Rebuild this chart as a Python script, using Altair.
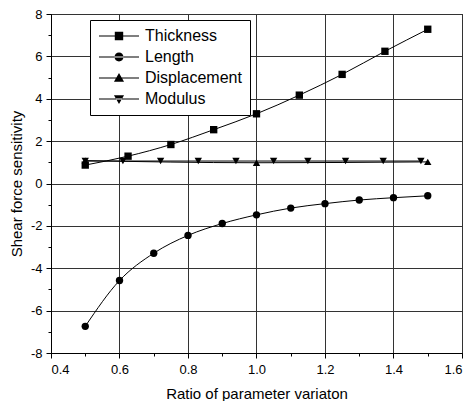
import altair as alt
import pandas as pd

series_names = ["Thickness", "Length", "Displacement", "Modulus"]

thick_x = [0.5, 0.625, 0.75, 0.875, 1.0, 1.125, 1.25, 1.375, 1.5]
thick_y = [0.87, 1.29, 1.84, 2.54, 3.29, 4.17, 5.15, 6.24, 7.28]

len_x = [0.5, 0.6, 0.7, 0.8, 0.9, 1.0, 1.1, 1.2, 1.3, 1.4, 1.5]
len_y = [-6.74, -4.58, -3.29, -2.45, -1.89, -1.48, -1.16, -0.95, -0.78, -0.67, -0.58]

disp_x = [0.5, 1.0, 1.5]
disp_y = [1.08, 0.98, 1.02]

mod_x = [0.5, 0.61, 0.72, 0.83, 0.94, 1.05, 1.15, 1.26, 1.37, 1.48]
mod_y = [1.06, 1.06, 1.06, 1.06, 1.06, 1.06, 1.06, 1.06, 1.06, 1.06]

x_ticks = [0.4, 0.5, 0.6, 0.7, 0.8, 0.9, 1.0, 1.1, 1.2, 1.3, 1.4, 1.5, 1.6]
y_ticks = [-8, -7, -6, -5, -4, -3, -2, -1, 0, 1, 2, 3, 4, 5, 6, 7, 8]

rows = []
for name, xs, ys in [("Thickness", thick_x, thick_y), ("Length", len_x, len_y),
                     ("Displacement", disp_x, disp_y), ("Modulus", mod_x, mod_y)]:
    for a, b in zip(xs, ys):
        rows.append({"x": a, "y": b, "series": name})
df = pd.DataFrame(rows)

FONT = "Liberation Sans"

x_major = "abs(datum.value * 5 - round(datum.value * 5)) < 0.001"
y_major = "abs(datum.value % 2) < 0.001"

xenc = alt.X("x:Q", scale=alt.Scale(domain=[0.4, 1.6], nice=False),
             axis=alt.Axis(values=x_ticks, grid=True,
                           labelExpr=f"({x_major}) ? format(datum.value, '.1f') : ''",
                           gridOpacity={"condition": {"test": x_major, "value": 1}, "value": 0},
                           tickSize={"condition": {"test": x_major, "value": 5}, "value": 3},
                           title="Ratio of parameter variaton",
                           labelPadding=5, titlePadding=10))
yenc = alt.Y("y:Q", scale=alt.Scale(domain=[-8, 8], nice=False),
             axis=alt.Axis(values=y_ticks, grid=True,
                           labelExpr=f"({y_major}) ? toString(datum.value) : ''",
                           gridOpacity={"condition": {"test": y_major, "value": 1}, "value": 0},
                           tickSize={"condition": {"test": y_major, "value": 5}, "value": 3},
                           title="Shear force sensitivity",
                           labelPadding=4, titlePadding=6))

base = alt.Chart(df)

lines = base.mark_line(color="black", strokeWidth=1, interpolate="monotone").encode(
    x=xenc, y=yenc, detail="series:N"
)

points = base.mark_point(filled=True, color="black", size=54, opacity=1).encode(
    x=xenc, y=yenc,
    shape=alt.Shape("series:N",
                    scale=alt.Scale(domain=series_names,
                                    range=["square", "circle", "triangle-up", "triangle-down"]),
                    legend=None)
)

# legend glyphs: a thin bar (the line) plus the marker, drawn in units of 7px
legend_paths = [
    "M-2.86,-0.07H2.86V0.07H-2.86ZM-0.6,-0.6H0.6V0.6H-0.6Z",
    "M-2.86,-0.07H2.86V0.07H-2.86ZM-0.64,0A0.64,0.64,0,1,0,0.64,0A0.64,0.64,0,1,0,-0.64,0Z",
    "M-2.86,-0.07H2.86V0.07H-2.86ZM0,-0.72L0.72,0.55L-0.72,0.55Z",
    "M-2.86,-0.07H2.86V0.07H-2.86ZM0,0.72L0.72,-0.55L-0.72,-0.55Z",
]

legend_layer = base.transform_filter("datum.x > 100").mark_point(
    filled=True, color="black", size=196, opacity=1
).encode(
    x=xenc, y=yenc,
    shape=alt.Shape("series:N",
                    scale=alt.Scale(domain=series_names, range=legend_paths),
                    legend=alt.Legend(title=None, orient="none", legendX=39, legendY=6,
                                      strokeColor="black", fillColor="white", padding=8,
                                      labelFont=FONT, labelFontSize=16, labelColor="black",
                                      labelOffset=18, symbolOffset=13, symbolSize=196,
                                      symbolStrokeWidth=0, symbolFillColor="black",
                                      rowPadding=5, symbolOpacity=1))
)

chart = alt.layer(lines, points, legend_layer).resolve_scale(shape="independent").properties(
    width=411, height=339,
    padding={"left": 43, "top": 6, "right": 3, "bottom": 48},
    autosize=alt.AutoSizeParams(type="none"),
    background="white",
).configure_view(stroke="black", strokeWidth=1).configure_axis(
    labelFont=FONT, labelFontSize=13, labelColor="black",
    titleFont=FONT, titleFontSize=15, titleFontWeight="normal", titleColor="black",
    domainColor="black", tickColor="black",
    gridColor="#333333", gridWidth=1,
)

chart.save("out.html", embed_options={"renderer": "svg", "actions": False})
